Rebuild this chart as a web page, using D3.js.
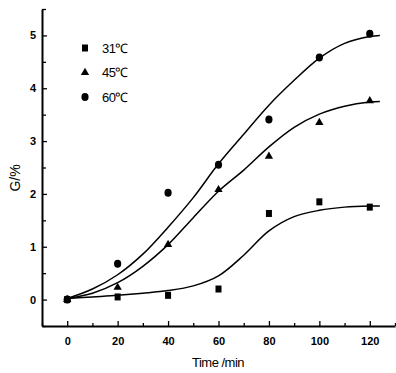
<!DOCTYPE html>
<html lang="en">
<head>
  <meta charset="UTF-8" />
  <title>G vs Time</title>
  <script src="https://d3js.org/d3.v7.min.js"></script>
  <style>
    body { margin: 0; background: #fff; }
    svg { display: block; font-family: Arial, "Liberation Sans", sans-serif; }
    .axis path, .axis line { stroke: #000; }
    .axis path { stroke-width: 2; }
    .axis line { stroke-width: 1.3; }
    .axis text { font-size: 11px; font-weight: bold; fill: #000; }
    .fit { fill: none; stroke: #000; stroke-width: 1.5; }
  </style>
</head>
<body>
  <svg width="396" height="373"></svg>
  <script>
    // measured points
    const times = [0, 20, 40, 60, 80, 100, 120];
    const g31 = [0.0, 0.05, 0.08, 0.2, 1.63, 1.85, 1.75];
    const g45 = [0.0, 0.23, 1.04, 2.08, 2.71, 3.35, 3.76];
    const g60 = [0.0, 0.68, 2.02, 2.55, 3.41, 4.58, 5.03];

    // fitted curves
    const fitT = [0, 10, 20, 30, 40, 50, 60, 70, 80, 90, 100, 110, 120, 124];
    const fit31 = [0.02, 0.05, 0.08, 0.12, 0.17, 0.26, 0.45, 0.84, 1.3, 1.57, 1.69, 1.75, 1.77, 1.77];
    const fit45 = [0.02, 0.12, 0.32, 0.63, 1.04, 1.55, 2.05, 2.45, 2.89, 3.26, 3.51, 3.66, 3.74, 3.75];
    const fit60 = [0.02, 0.2, 0.47, 0.86, 1.37, 1.93, 2.57, 3.13, 3.68, 4.15, 4.57, 4.85, 4.98, 5.0];

    const series = [
      { label: "31℃", shape: "square", g: g31, fit: fit31 },
      { label: "45℃", shape: "triangle", g: g45, fit: fit45 },
      { label: "60℃", shape: "circle", g: g60, fit: fit60 }
    ];

    const svg = d3.select("svg");
    const x = d3.scaleLinear().domain([-10, 130]).range([42, 395]);
    const y = d3.scaleLinear().domain([-0.5, 5.5]).range([326, 9]);

    // minor ticks
    svg.append("g").attr("class", "axis")
      .attr("transform", "translate(0,326)")
      .call(d3.axisBottom(x).tickValues(d3.range(-10, 131, 20)).tickSizeInner(-3).tickSizeOuter(0).tickFormat(""))
      .select(".domain").remove();
    svg.append("g").attr("class", "axis")
      .attr("transform", "translate(42,0)")
      .call(d3.axisLeft(y).tickValues(d3.range(-0.5, 5.6, 1)).tickSizeInner(-4).tickSizeOuter(0).tickFormat(""))
      .select(".domain").remove();

    // major ticks
    svg.append("g").attr("class", "axis")
      .attr("transform", "translate(0,326)")
      .call(d3.axisBottom(x).tickValues(d3.range(0, 121, 20)).tickSizeInner(-5).tickSizeOuter(0).tickPadding(11));
    svg.append("g").attr("class", "axis")
      .attr("transform", "translate(42,0)")
      .call(d3.axisLeft(y).tickValues(d3.range(0, 6)).tickFormat(d3.format("d"))
        .tickSizeInner(-5).tickSizeOuter(0).tickPadding(6));

    // fitted lines
    const line = d3.line()
      .x((d, i) => x(fitT[i]))
      .y(d => y(d))
      .curve(d3.curveCatmullRom.alpha(0.5));
    series.forEach(s => {
      svg.append("path").attr("class", "fit").attr("d", line(s.fit));
    });

    function drawMarker(g, shape, cx, cy) {
      if (shape === "square") {
        g.append("rect").attr("x", cx - 3).attr("y", cy - 3.5)
          .attr("width", 6).attr("height", 7).attr("fill", "#000");
      } else if (shape === "triangle") {
        g.append("path")
          .attr("d", d3.symbol().type(d3.symbolTriangle).size(30)())
          .attr("transform", `translate(${cx},${cy})`)
          .attr("fill", "#000");
      } else {
        g.append("ellipse").attr("cx", cx).attr("cy", cy)
          .attr("rx", 3.6).attr("ry", 4).attr("fill", "#000");
      }
    }

    const marks = svg.append("g");
    series.forEach(s => {
      s.g.forEach((v, i) => drawMarker(marks, s.shape, x(times[i]), y(v)));
    });

    // legend
    const legend = svg.append("g");
    series.forEach((s, i) => {
      const ly = 48 + i * 24.5;
      drawMarker(legend, s.shape, 85, ly);
      legend.append("text")
        .attr("x", 102).attr("y", ly).attr("dy", "0.36em")
        .attr("font-size", 13)
        .attr("letter-spacing", -0.5)
        .text(s.label);
    });

    // axis titles
    svg.append("text")
      .attr("x", 218).attr("y", 367)
      .attr("text-anchor", "middle")
      .attr("font-size", 13)
      .attr("letter-spacing", -0.5)
      .text("Time /min");
    svg.append("text")
      .attr("transform", "translate(20,178) rotate(-90)")
      .attr("text-anchor", "middle")
      .attr("font-size", 14)
      .text("G/%");
  </script>
</body>
</html>
